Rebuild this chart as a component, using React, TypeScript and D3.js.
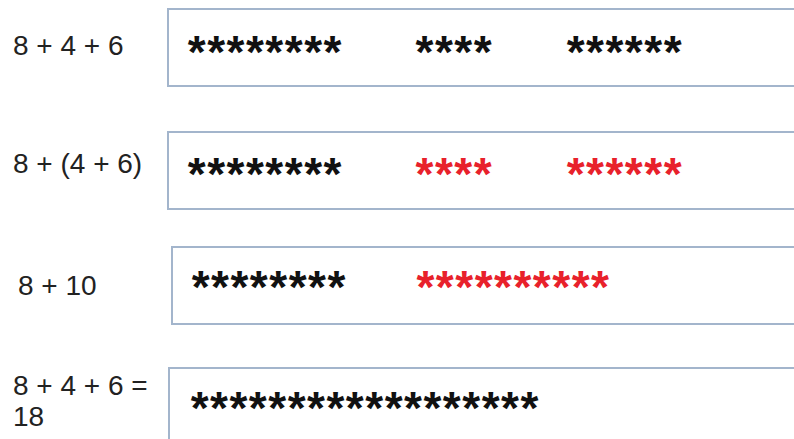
import React from "react";
import * as d3 from "d3";

// left-hand sums, one entry per row (second line for the last row)
const rowLabels: string[][] = [["8 + 4 + 6"], ["8 + (4 + 6)"], ["8 + 10"], ["8 + 4 + 6 =", "18"]];
// how many stars in each group
const starCounts: number[][] = [[8, 4, 6], [8, 4, 6], [8, 10], [18]];
// colour of each group
const starColors: string[][] = [
  ["black", "black", "black"],
  ["black", "red", "red"],
  ["black", "red"],
  ["black"],
];
// where each group starts, in star widths
const groupStarts: number[][] = [[0, 11.74, 19.53], [0, 11.74, 19.53], [0.2, 11.79], [0.15]];

const W = 794;
const H = 439;

// layout of the rows (box edges, label baselines)
const boxLeft = [168, 168, 172, 169];
const boxTop = [9, 132, 247, 368];
const boxH = 77;
const labelX = [13, 13, 18, 13];
const labelBase = [[55, 173, 295, 395], [0, 0, 0, 426]];
const starCenterY = [41, 163, 276, 397];

const colorMap: Record<string, string> = { black: "#111111", red: "#e8212b" };

export default function App() {
  const x = d3.scaleLinear().domain([0, 1]).range([187, 187 + 19.4]);
  const starSize = 46;
  const starDy = 27; // asterisk ink sits high above the baseline

  return (
    <svg
      width={W}
      height={H}
      style={{ position: "absolute", left: 0, top: 0, background: "#fff" }}
      fontFamily="'Liberation Sans', Arial, sans-serif"
    >
      {rowLabels.map((lines, r) => (
        <g key={r}>
          <rect
            x={boxLeft[r]}
            y={boxTop[r]}
            width={W}
            height={boxH}
            fill="none"
            stroke="#a3b5cc"
            strokeWidth={2}
          />
          {lines.map((ln, li) => (
            <text key={li} x={labelX[r]} y={labelBase[li][r]} fontSize={28} fill="#222">
              {ln}
            </text>
          ))}
          {starCounts[r].map((n, g) =>
            d3.range(n).map((i) => (
              <text
                key={g + "-" + i}
                x={x(groupStarts[r][g] + i + 0.5)}
                y={starCenterY[r] + starDy}
                fontSize={starSize}
                fontWeight="bold"
                textAnchor="middle"
                fill={colorMap[starColors[r][g]]}
              >
                *
              </text>
            ))
          )}
        </g>
      ))}
    </svg>
  );
}
